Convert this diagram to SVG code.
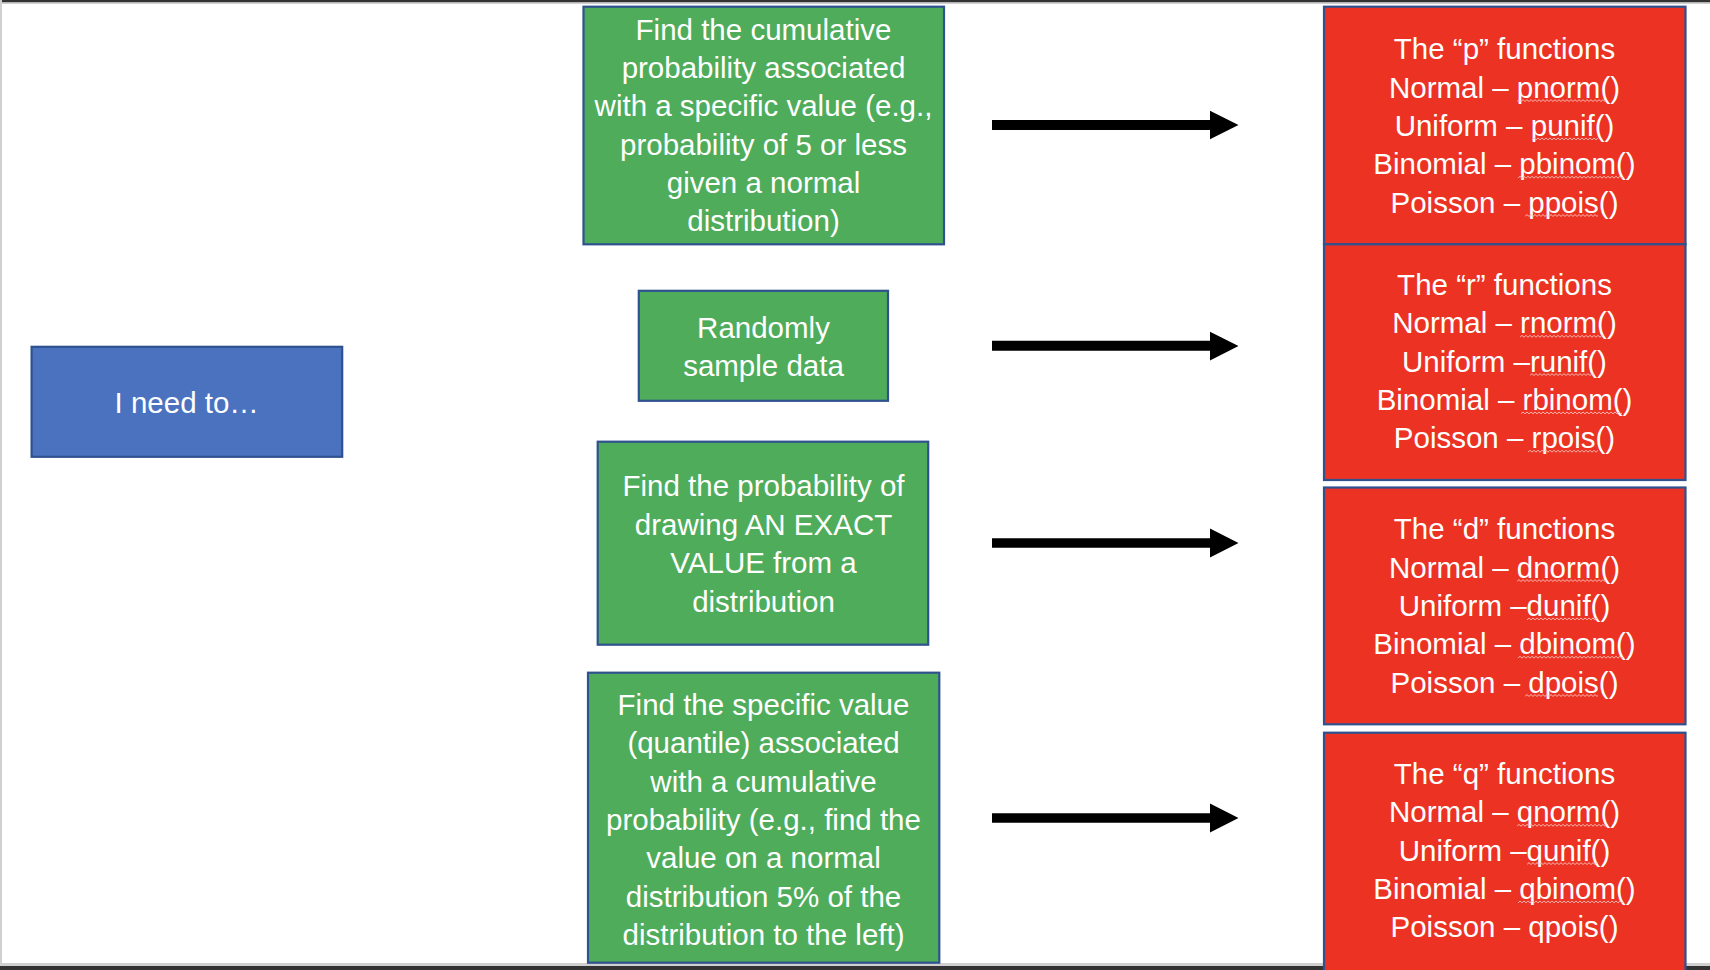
<svg xmlns="http://www.w3.org/2000/svg" xmlns:xlink="http://www.w3.org/1999/xlink" width="1710" height="970" viewBox="0 0 1710 970">
<style>
  .box { stroke: #2F528F; stroke-width: 2.2; }
  .blue { fill: #4A72BF; }
  .green { fill: #4FAC5B; }
  .red { fill: #EB3223; }
  text { font-family: "Liberation Sans", Arial, sans-serif; font-size: 29.5px; fill: #FFFFFF; text-anchor: middle; }
  .arrow { fill: #000000; }
  .zz { fill: none; stroke: #F8BDB6; stroke-width: 1; }
</style>
<defs>
  <path id="zz" class="zz" d="M0,2.5 l2,-2 l2,2 l2,-2 l2,2 l2,-2 l2,2 l2,-2 l2,2 l2,-2 l2,2 l2,-2 l2,2 l2,-2 l2,2 l2,-2 l2,2 l2,-2 l2,2 l2,-2 l2,2 l2,-2 l2,2 l2,-2 l2,2 l2,-2 l2,2 l2,-2 l2,2 l2,-2 l2,2 l2,-2 l2,2 l2,-2 l2,2 l2,-2 l2,2 l2,-2 l2,2 l2,-2 l2,2 l2,-2 l2,2 l2,-2 l2,2 l2,-2 l2,2 l2,-2 l2,2 l2,-2 l2,2 l2,-2 l2,2 l2,-2 l2,2 l2,-2 l2,2 l2,-2 l2,2 l2,-2 l2,2 l2,-2 l2,2 l2,-2 l2,2"/>
</defs>
<rect x="0" y="0" width="1710" height="970" fill="#FFFFFF"/>
<rect x="0" y="0" width="1710" height="2.5" fill="#333333"/>
<rect x="0" y="2.5" width="1710" height="1.5" fill="#D0D0D0"/>
<rect x="0" y="0" width="2" height="970" fill="#D0D0D0"/>
<rect x="0" y="963" width="1710" height="3" fill="#D0D0D0"/>
<rect x="0" y="966" width="1710" height="4" fill="#333333"/>

<g id="connectors">
  <path class="arrow" d="M992,120 H1210 V110.7 L1238.5,125 L1210,139.3 V130 H992 Z"/>
  <path class="arrow" d="M992,340.7 H1210 V331.7 L1238.5,346 L1210,360.5 V350.7 H992 Z"/>
  <path class="arrow" d="M992,538.3 H1210 V528.5 L1238.5,543 L1210,557.5 V547.7 H992 Z"/>
  <path class="arrow" d="M992,813.3 H1210 V803.5 L1238.5,818 L1210,832.5 V822.7 H992 Z"/>
</g>

<g id="start">
  <rect class="box blue" x="31.6" y="346.8" width="310.6" height="110"/>
  <text x="186.7" y="413">I need to…</text>
</g>

<g id="task-cumulative">
  <rect class="box green" x="583.5" y="6.7" width="360.5" height="237.6"/>
  <text x="763.5" y="40">Find the cumulative</text>
  <text x="763.5" y="78.2">probability associated</text>
  <text x="763.5" y="116.4">with a specific value (e.g.,</text>
  <text x="763.5" y="154.6">probability of 5 or less</text>
  <text x="763.5" y="192.8">given a normal</text>
  <text x="763.5" y="231">distribution)</text>
</g>

<g id="task-random">
  <rect class="box green" x="638.8" y="290.8" width="249.2" height="110"/>
  <text x="763.5" y="338">Randomly</text>
  <text x="763.5" y="375.5">sample data</text>
</g>

<g id="task-exact">
  <rect class="box green" x="597.7" y="441.7" width="330.5" height="203"/>
  <text x="763.5" y="496">Find the probability of</text>
  <text x="763.5" y="534.5">drawing AN EXACT</text>
  <text x="763.5" y="573">VALUE from a</text>
  <text x="763.5" y="611.5">distribution</text>
</g>

<g id="task-quantile">
  <rect class="box green" x="588" y="672.7" width="351.3" height="290"/>
  <text x="763.5" y="715">Find the specific value</text>
  <text x="763.5" y="753.3">(quantile) associated</text>
  <text x="763.5" y="791.6">with a cumulative</text>
  <text x="763.5" y="829.9">probability (e.g., find the</text>
  <text x="763.5" y="868.2">value on a normal</text>
  <text x="763.5" y="906.5">distribution 5% of the</text>
  <text x="763.5" y="944.8">distribution to the left)</text>
</g>

<g id="p-functions">
  <rect class="box red" x="1324" y="6.7" width="361.5" height="237.6"/>
  <text x="1504.5" y="59.3">The “p” functions</text>
  <text x="1504.5" y="97.6">Normal – pnorm()</text>
  <text x="1504.5" y="135.9">Uniform – punif()</text>
  <text x="1504.5" y="174.2">Binomial – pbinom()</text>
  <text x="1504.5" y="212.5">Poisson – ppois()</text>
  <svg x="1517" y="99.1" width="89" height="4"><use xlink:href="#zz"/></svg>
  <svg x="1532" y="137.4" width="66" height="4"><use xlink:href="#zz"/></svg>
  <svg x="1518" y="175.7" width="105" height="4"><use xlink:href="#zz"/></svg>
  <svg x="1525" y="214" width="73" height="4"><use xlink:href="#zz"/></svg>
</g>

<g id="r-functions">
  <rect class="box red" x="1324" y="244.3" width="361.5" height="235.7"/>
  <text x="1504.5" y="295">The “r” functions</text>
  <text x="1504.5" y="333.3">Normal – rnorm()</text>
  <text x="1504.5" y="371.6">Uniform –runif()</text>
  <text x="1504.5" y="409.9">Binomial – rbinom()</text>
  <text x="1504.5" y="448.2">Poisson – rpois()</text>
  <svg x="1520" y="334.8" width="83" height="4"><use xlink:href="#zz"/></svg>
  <svg x="1530" y="373.1" width="64" height="4"><use xlink:href="#zz"/></svg>
  <svg x="1521" y="411.4" width="101" height="4"><use xlink:href="#zz"/></svg>
  <svg x="1528" y="449.7" width="70" height="4"><use xlink:href="#zz"/></svg>
</g>

<g id="d-functions">
  <rect class="box red" x="1324" y="487.5" width="361.5" height="236.8"/>
  <text x="1504.5" y="539.3">The “d” functions</text>
  <text x="1504.5" y="577.6">Normal – dnorm()</text>
  <text x="1504.5" y="615.9">Uniform –dunif()</text>
  <text x="1504.5" y="654.2">Binomial – dbinom()</text>
  <text x="1504.5" y="692.5">Poisson – dpois()</text>
  <svg x="1517" y="579.1" width="89" height="4"><use xlink:href="#zz"/></svg>
  <svg x="1527" y="617.4" width="71" height="4"><use xlink:href="#zz"/></svg>
  <svg x="1518" y="655.7" width="105" height="4"><use xlink:href="#zz"/></svg>
  <svg x="1525" y="694" width="73" height="4"><use xlink:href="#zz"/></svg>
</g>

<g id="q-functions">
  <rect class="box red" x="1324" y="732.7" width="361.5" height="240"/>
  <text x="1504.5" y="784">The “q” functions</text>
  <text x="1504.5" y="822.3">Normal – qnorm()</text>
  <text x="1504.5" y="860.6">Uniform –qunif()</text>
  <text x="1504.5" y="898.9">Binomial – qbinom()</text>
  <text x="1504.5" y="937.2">Poisson – qpois()</text>
  <svg x="1517" y="823.8" width="89" height="4"><use xlink:href="#zz"/></svg>
  <svg x="1527" y="862.1" width="71" height="4"><use xlink:href="#zz"/></svg>
  <svg x="1518" y="900.4" width="105" height="4"><use xlink:href="#zz"/></svg>
</g>
</svg>
